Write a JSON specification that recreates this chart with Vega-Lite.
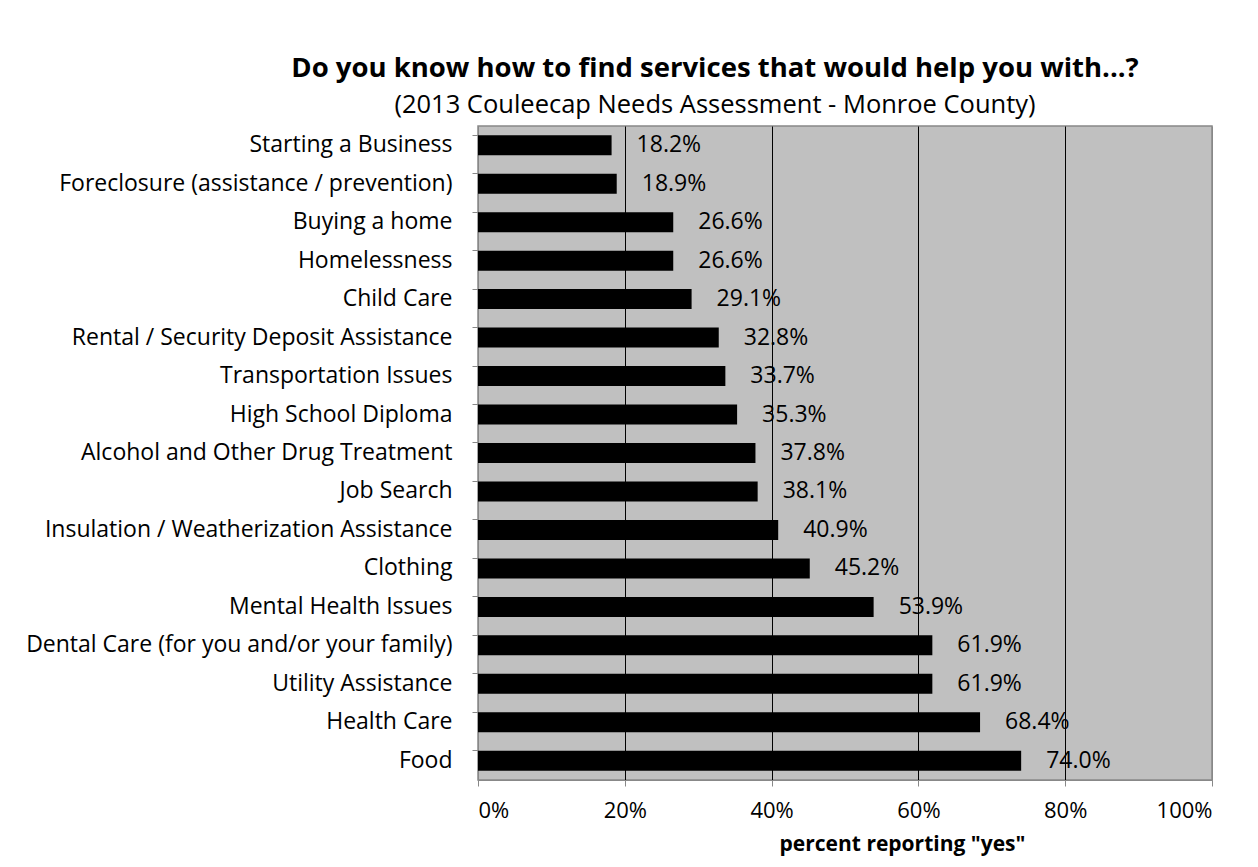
{
  "$schema": "https://vega.github.io/schema/vega-lite/v6.json",
  "width": 734,
  "height": 654,
  "autosize": "none",
  "padding": {"left": 478, "top": 126, "right": 46, "bottom": 87},
  "background": "white",
  "title": {
    "text": "Do you know how to find services that would help you with...?",
    "subtitle": "(2013 Couleecap Needs Assessment - Monroe County)",
    "frame": "group",
    "anchor": "middle",
    "dx": -130,
    "offset": 8,
    "font": "Open Sans",
    "fontSize": 27.5,
    "fontWeight": "bold",
    "color": "black",
    "subtitleFont": "Open Sans",
    "subtitleFontSize": 25.5,
    "subtitleColor": "black",
    "subtitlePadding": 10
  },
  "data": {
    "values": [
      {"service": "Starting a Business", "pct": 18.2},
      {"service": "Foreclosure (assistance / prevention)", "pct": 18.9},
      {"service": "Buying a home", "pct": 26.6},
      {"service": "Homelessness", "pct": 26.6},
      {"service": "Child Care", "pct": 29.1},
      {"service": "Rental / Security Deposit Assistance", "pct": 32.8},
      {"service": "Transportation Issues", "pct": 33.7},
      {"service": "High School Diploma", "pct": 35.3},
      {"service": "Alcohol and Other Drug Treatment", "pct": 37.8},
      {"service": "Job Search", "pct": 38.1},
      {"service": "Insulation / Weatherization Assistance", "pct": 40.9},
      {"service": "Clothing", "pct": 45.2},
      {"service": "Mental Health Issues", "pct": 53.9},
      {"service": "Dental Care (for you and/or your family)", "pct": 61.9},
      {"service": "Utility Assistance", "pct": 61.9},
      {"service": "Health Care ", "pct": 68.4},
      {"service": "Food", "pct": 74.0}
    ]
  },
  "encoding": {
    "y": {
      "field": "service",
      "type": "nominal",
      "sort": null,
      "scale": {"paddingInner": 0.48, "paddingOuter": 0.24},
      "axis": {
        "title": null,
        "labelFont": "Open Sans",
        "labelFontSize": 23,
        "labelColor": "black",
        "labelPadding": 20,
        "labelLimit": 500,
        "domainColor": "#888888",
        "tickColor": "#888888",
        "tickSize": 6,
        "bandPosition": 0
      }
    },
    "x": {
      "field": "pct",
      "type": "quantitative",
      "scale": {"domain": [0, 100]},
      "axis": {
        "title": "percent reporting \"yes\"",
        "titleFont": "Open Sans",
        "titleFontSize": 21,
        "titleFontWeight": "bold",
        "titleColor": "black",
        "titlePadding": 12,
        "titleX": 424,
        "titleAnchor": "middle",
        "values": [0, 20, 40, 60, 80, 100],
        "labelExpr": "datum.value + '%'",
        "labelFont": "Open Sans",
        "labelFontSize": 22,
        "labelColor": "black",
        "labelPadding": 14,
        "domainColor": "#888888",
        "tickColor": "#888888",
        "tickSize": 6,
        "grid": true,
        "gridColor": {"condition": {"test": "datum.value == 0 || datum.value == 100", "value": "#888888"}, "value": "#000000"},
        "gridWidth": 1
      }
    }
  },
  "layer": [
    {"mark": {"type": "bar", "color": "black"}},
    {
      "mark": {
        "type": "text",
        "align": "left",
        "baseline": "middle",
        "dx": 25,
        "font": "Open Sans",
        "fontSize": 23,
        "color": "black",
        "text": {"expr": "format(datum.pct, '.1f') + '%'"}
      }
    }
  ],
  "config": {
    "view": {"fill": "#C0C0C0", "stroke": "#888888", "strokeWidth": 1.5}
  }
}
